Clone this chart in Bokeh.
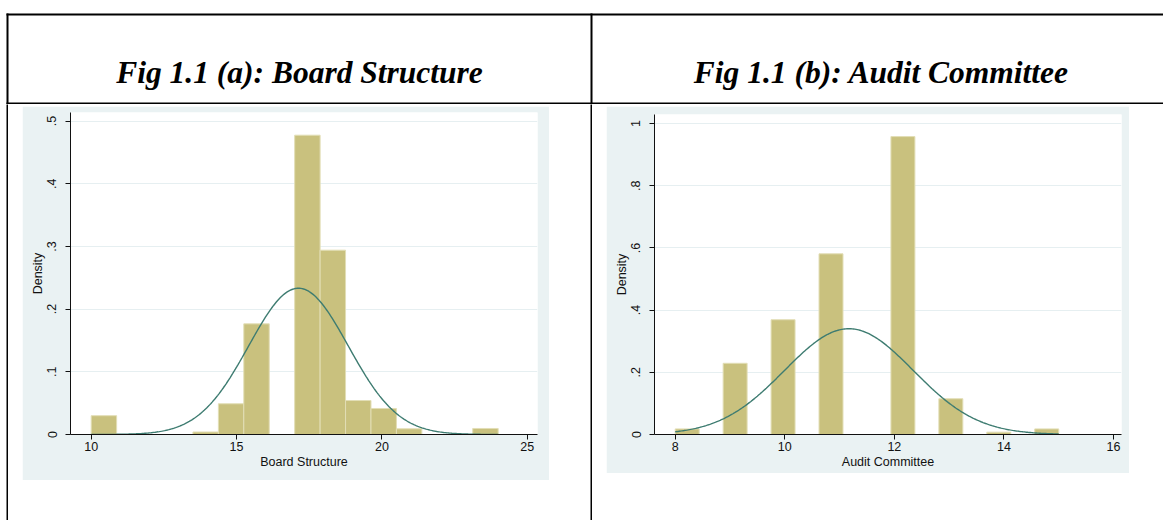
import numpy as np
from bokeh.plotting import figure
from bokeh.layouts import row, column
from bokeh.models import Range1d, Spacer, FixedTicker
from bokeh.core.properties import value
from bokeh.embed import file_html
from bokeh.resources import INLINE

# ---------------- data ----------------
titles = ["Fig 1.1 (a): Board Structure", "Fig 1.1 (b): Audit Committee"]

# Board Structure: 16 bins over [10, 24]
board_min = 10
board_max = 24
board_density = [0.030, 0.0, 0.0, 0.0, 0.004, 0.049, 0.1765, 0.0,
                 0.4774, 0.294, 0.0542, 0.0415, 0.0091, 0.0, 0.0, 0.0096]
board_mean = 17.13
board_sd = 1.71
board_xticks = [10, 15, 20, 25]
board_yticks = [0, 0.1, 0.2, 0.3, 0.4, 0.5]
board_ylabels = ["0", ".1", ".2", ".3", ".4", ".5"]

# Audit Committee: 16 bins over [8, 15]
audit_min = 8
audit_max = 15
audit_density = [0.018, 0.0, 0.229, 0.0, 0.369, 0.0, 0.581, 0.0,
                 0.0, 0.958, 0.0, 0.115, 0.0, 0.0075, 0.0, 0.018]
audit_mean = 11.17
audit_sd = 1.173
audit_xticks = [8, 10, 12, 14, 16]
audit_yticks = [0, 0.2, 0.4, 0.6, 0.8, 1]
audit_ylabels = ["0", ".2", ".4", ".6", ".8", "1"]

# ---------------- style ----------------
BG = "#EAF2F3"
BAR = "#C9C17E"
BAR_EDGE = "#E2DEB6"
CURVE = "#3E7C71"
FONT = "Liberation Sans"


def hist_panel(width, height, mb, xr, yr, bmin, bmax, dens, mean, sd,
               xticks, yticks, ylabels, xlabel):
    p = figure(width=width, height=height, output_backend="svg",
               toolbar_location=None, x_range=Range1d(*xr), y_range=Range1d(*yr),
               min_border_left=mb[0], min_border_right=mb[1],
               min_border_top=mb[2], min_border_bottom=mb[3],
               background_fill_color="white", border_fill_color=BG,
               outline_line_color=None)
    n = len(dens)
    edges = np.linspace(bmin, bmax, n + 1)
    dens = np.array(dens)
    keep = dens > 0
    p.quad(left=edges[:-1][keep], right=edges[1:][keep], bottom=0, top=dens[keep],
           fill_color=BAR, line_color=BAR_EDGE, line_width=1)
    xs = np.linspace(bmin, bmax, 300)
    ys = np.exp(-0.5 * ((xs - mean) / sd) ** 2) / (sd * np.sqrt(2 * np.pi))
    p.line(xs, ys, line_color=CURVE, line_width=1.4)

    p.xgrid.visible = False
    p.ygrid.grid_line_color = "#E6EFF1"
    p.ygrid.ticker = FixedTicker(ticks=yticks)

    p.xaxis.ticker = FixedTicker(ticks=xticks)
    p.yaxis.ticker = FixedTicker(ticks=yticks)
    p.yaxis.major_label_overrides = {t: l for t, l in zip(yticks, ylabels)}
    p.yaxis.major_label_orientation = "vertical"
    for ax in (p.xaxis, p.yaxis):
        ax.axis_line_color = "#111111"
        ax.major_tick_line_color = "#111111"
        ax.minor_tick_line_color = None
        ax.major_tick_out = 5
        ax.major_tick_in = 0
        ax.major_label_text_font = FONT
        ax.major_label_text_font_size = "12.5px"
        ax.major_label_text_color = "#111111"
        ax.axis_label_text_font = FONT
        ax.axis_label_text_font_size = "12.5px"
        ax.axis_label_text_font_style = "normal"
        ax.axis_label_text_color = "#111111"
    p.xaxis.major_label_standoff = 2
    p.xaxis.axis_label_standoff = 1
    p.yaxis.major_label_standoff = 9
    p.yaxis.axis_label_standoff = 0
    p.xaxis.axis_label = xlabel
    p.yaxis.axis_label = "Density"
    return p


def rule(w, h):
    f = figure(width=w, height=h, output_backend="svg", toolbar_location=None,
               min_border=0, x_axis_location=None, y_axis_location=None,
               background_fill_color="black", border_fill_color="black",
               outline_line_color=None)
    f.grid.visible = False
    return f


W = 1163
HDR_H = 104
# ---------------- header (table top row) ----------------
hdr = figure(width=W, height=HDR_H, output_backend="svg", toolbar_location=None,
             x_range=Range1d(0, W), y_range=Range1d(HDR_H, 0), min_border=0,
             x_axis_location=None, y_axis_location=None, outline_line_color=None,
             background_fill_color="white", border_fill_color="white")
hdr.grid.visible = False
hdr.quad(left=[6, 6, 6, 590], right=[W, W, 8, 592],
         top=[13, 102, 13, 13], bottom=[15, 104, 104, 104],
         fill_color="black", line_color=None)
hdr.text(x=[299, 881], y=[72, 72], text=titles,
         text_font=value("Liberation Serif"), text_font_style="bold italic",
         text_font_size="31.5px", text_align="center", text_baseline="alphabetic",
         text_color="black")

# ---------------- panels ----------------
pa = hist_panel(527, 374, (48, 12, 6, 46), (9.288, 25.353), (0, 0.5136),
                board_min, board_max, board_density, board_mean, board_sd,
                board_xticks, board_yticks, board_ylabels, "Board Structure")
pb = hist_panel(523, 367, (48, 8, 8, 39), (7.622, 16.146), (0, 1.029),
                audit_min, audit_max, audit_density, audit_mean, audit_sd,
                audit_xticks, audit_yticks, audit_ylabels, "Audit Committee")

H = 520 - HDR_H
cell_a = column(Spacer(width=527, height=2), pa, Spacer(width=527, height=H - 376), spacing=0)
cell_b = column(Spacer(width=523, height=2), pb, Spacer(width=523, height=H - 369), spacing=0)
body = row(Spacer(width=6, height=H), rule(2, H), Spacer(width=14, height=H), cell_a,
           Spacer(width=41, height=H), rule(2, H), Spacer(width=14, height=H), cell_b,
           Spacer(width=34, height=H), spacing=0)
layout = column(hdr, body, spacing=0)

open("out.html", "w").write(file_html(layout, INLINE))
